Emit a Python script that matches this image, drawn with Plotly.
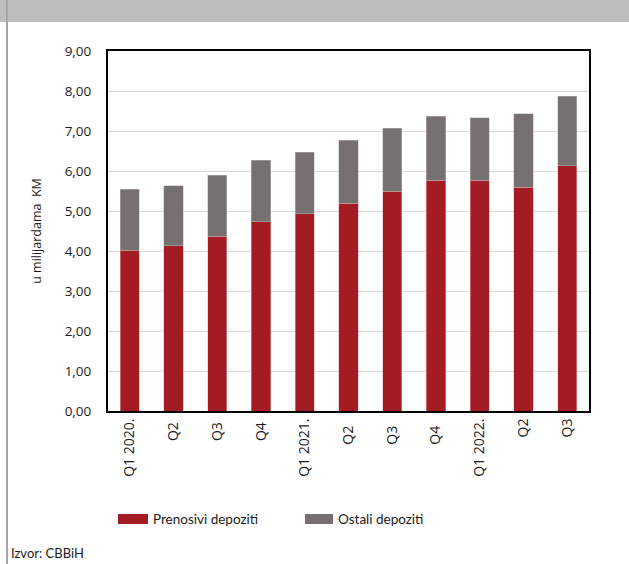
import plotly.graph_objects as go

categories = ["Q1 2020.", "Q2 ", "Q3 ", "Q4 ", "Q1 2021.", "Q2  ", "Q3  ", "Q4  ", "Q1 2022.", "Q2", "Q3"]
totals = [5.54, 5.63, 5.90, 6.27, 6.47, 6.77, 7.07, 7.37, 7.33, 7.43, 7.87]
prenosivi = [4.02, 4.13, 4.37, 4.73, 4.93, 5.20, 5.50, 5.77, 5.77, 5.60, 6.13]
ostali = [round(t - p, 2) for t, p in zip(totals, prenosivi)]
series_names = ["Prenosivi depoziti", "Ostali depoziti"]
tick_vals = [0, 1, 2, 3, 4, 5, 6, 7, 8, 9]

RED = "#A41C23"
GRAY = "#767170"
FONT = "Open Sans"
LFONT = "Lato"

fig = go.Figure()
fig.add_trace(go.Bar(x=categories, y=prenosivi, name=series_names[0],
                     marker=dict(color=RED, line=dict(width=0.5, color="#E8B0B0")),
                     showlegend=False))
fig.add_trace(go.Bar(x=categories, y=ostali, name=series_names[1],
                     marker=dict(color=GRAY, line=dict(width=0.5, color="#BBBBBB")),
                     showlegend=False))

W, H = 629, 564
L, R, T, B = 108, 589, 51, 411
pw, ph = R - L, B - T

def px(x):
    return (x - L) / pw

def py(y):
    return (B - y) / ph

shapes = [
    dict(type="rect", xref="paper", yref="paper", x0=px(0), x1=px(W), y0=py(22), y1=py(0),
         fillcolor="#BDBEC0", line=dict(width=0), layer="below"),
    dict(type="line", xref="paper", yref="paper", x0=px(7), x1=px(7), y0=py(0), y1=py(H),
         line=dict(color="#A6A6A6", width=2)),
    dict(type="rect", xref="paper", yref="paper", x0=px(118), x1=px(148), y0=py(524), y1=py(514),
         fillcolor=RED, line=dict(width=0)),
    dict(type="rect", xref="paper", yref="paper", x0=px(305), x1=px(333), y0=py(524), y1=py(514),
         fillcolor=GRAY, line=dict(width=0)),
]

annotations = [
    dict(text=series_names[0], xref="paper", yref="paper", x=px(151), y=py(519),
         xanchor="left", yanchor="middle", showarrow=False,
         font=dict(family=LFONT, size=13.5, color="#1a1a1a")),
    dict(text=series_names[1], xref="paper", yref="paper", x=px(336), y=py(519),
         xanchor="left", yanchor="middle", showarrow=False,
         font=dict(family=LFONT, size=13.5, color="#1a1a1a")),
    dict(text="Izvor: CBBiH", xref="paper", yref="paper", x=px(9), y=py(553),
         xanchor="left", yanchor="middle", showarrow=False,
         font=dict(family=LFONT, size=13, color="#1a1a1a")),
]

fig.update_layout(
    width=W, height=H,
    barmode="stack",
    bargap=0.56,
    separators=", ",
    plot_bgcolor="white", paper_bgcolor="white",
    margin=dict(l=L, r=W - R, t=T, b=H - B, pad=0),
    font=dict(family=FONT, size=13, color="#1a1a1a"),
    shapes=shapes,
    annotations=annotations,
    xaxis=dict(tickangle=-90, showline=True, linecolor="black", linewidth=2, mirror=True,
               ticks="", tickfont=dict(family=FONT, size=14, color="#1a1a1a"), showgrid=False),
    yaxis=dict(range=[0, 9], tickvals=tick_vals, tickformat=".2f",
               showline=True, linecolor="black", linewidth=2, mirror=True,
               showgrid=True, gridcolor="#D9D9D9", gridwidth=1, ticks="",
               ticklabelstandoff=12,
               tickfont=dict(family=FONT, size=13.5, color="#1a1a1a"),
               title=dict(text="u milijardama  KM", font=dict(family=FONT, size=12.5, color="#1a1a1a"),
                          standoff=20)),
)

fig.write_html("out.html", config={"displayModeBar": False},
               post_script="document.body.style.margin='0';")
